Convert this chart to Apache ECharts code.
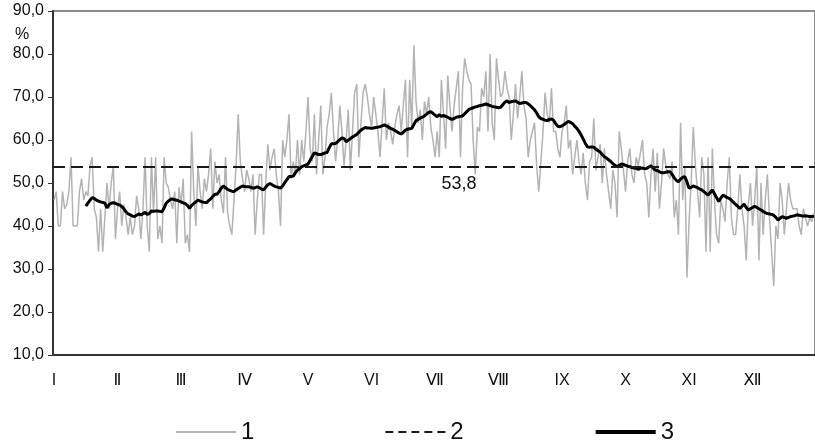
<!DOCTYPE html>
<html>
<head>
<meta charset="utf-8">
<script src="https://cdn.jsdelivr.net/npm/echarts@6/dist/echarts.min.js"></script>
<style>
  html, body { margin: 0; padding: 0; background: #fff; }
  #chart { width: 815px; height: 446px; }
</style>
</head>
<body>
<div id="chart"></div>
<script>
// month labels, one every 30 days
const MONTHS = ['I', 'Ⅱ', 'Ⅲ', 'Ⅳ', 'V', 'VI', 'Ⅶ', 'Ⅷ', 'IX', 'X', 'XI', 'Ⅻ'];
const Y_MIN = 10, Y_MAX = 90, Y_STEP = 10;
const MEAN = 53.8;

// 1 - daily values, %
const DAILY = [
  46,48,40,40,48,44,45,48,56,40,
  40,40,48,51,46,48,47,54,56,44,
  42,34,44,34,42,50,44,50,54,37,
  44,48,40,45,42,38,42,38,40,47,
  44,37,44,56,40,34,56,43,56,37,
  40,36,56,50,49,46,44,48,36,49,
  45,51,36,38,34,62,48,40,54,48,
  44,51,48,52,58,44,55,50,52,46,
  43,56,43,40,38,46,54,66,55,51,
  48,53,51,48,52,38,46,52,52,38,
  50,59,53,56,58,52,48,40,60,56,
  60,66,51,55,52,60,52,60,55,
  62,70,58,55,66,52,60,68,52,56,
  63,66,71,62,55,60,68,62,54,60,
  67,53,62,71,73,56,64,71,73,70,
  66,63,70,66,62,56,64,72,60,64,
  62,59,63,66,68,62,68,74,56,74,
  63,82,69,64,67,60,69,66,70,63,
  60,56,62,56,74,66,58,75,68,62,
  68,72,76,56,72,79,76,74,73,60,
  52,63,62,72,70,76,62,80,64,60,
  79,74,70,71,76,72,70,60,66,73,
  65,70,76,68,65,56,60,62,64,54,
  48,55,62,71,66,64,72,62,62,
  58,56,62,64,68,58,60,52,56,60,
  55,52,57,50,46,55,56,65,53,56,
  59,50,58,52,48,44,53,50,42,62,
  58,53,48,55,58,52,50,56,54,57,
  60,52,50,42,52,58,48,57,44,50,
  58,54,52,51,55,42,46,38,64,46,
  54,28,41,50,63,54,48,42,56,52,
  34,56,34,58,46,38,36,46,44,41,
  50,56,42,38,38,44,52,44,40,32,
  45,50,40,46,54,32,50,38,46,52,
  42,34,26,40,37,50,46,38,44,50,
  46,44,44,44,40,38,44,42,40,42,
  41,43
];

// 3 - smoothed values, %
const SMOOTH = [
  null,null,null,null,null,null,null,null,null,null,
  null,null,null,null,null,
  44.6,45.3,46.0,46.6,46.4,46.0,45.8,45.6,45.5,45.3,
  44.2,45.0,45.3,45.4,45.3,45.0,44.9,44.5,44.0,43.3,
  42.8,42.6,42.3,42.2,42.5,42.8,42.6,42.8,43.2,42.7,
  42.9,43.5,43.4,43.5,43.5,43.4,43.3,44.2,45.3,45.8,
  46.2,46.3,46.1,46.0,45.8,45.6,45.4,45.2,44.8,44.1,
  44.8,45.2,45.6,46.0,45.8,45.6,45.5,45.4,45.9,46.3,
  46.9,47.4,47.4,48.0,48.8,49.3,48.9,48.5,48.3,48.1,
  48.0,48.4,48.7,49.0,49.3,49.2,49.1,49.1,49.0,48.8,
  48.9,49.1,48.9,48.6,48.4,49.0,49.6,49.9,49.6,49.3,
  49.1,49.0,48.8,49.3,50.1,50.8,51.5,51.5,51.6,52.4,
  53.0,53.3,53.8,54.0,54.2,54.4,55.3,56.2,57.0,
  56.8,56.6,56.6,56.8,57.0,57.1,58.2,59.1,59.1,59.2,
  59.6,60.1,60.5,60.3,59.6,60.0,60.3,60.7,61.0,61.3,
  61.8,62.3,62.6,62.9,62.8,62.8,62.7,62.8,62.9,63.0,
  63.1,63.3,63.5,63.3,63.0,62.7,62.5,62.2,61.9,61.6,
  61.4,61.8,62.3,62.5,62.6,62.7,63.6,64.5,64.8,65.1,
  65.3,65.6,66.0,66.4,66.6,66.2,65.8,65.4,65.9,65.5,
  65.7,65.5,65.3,65.0,64.8,65.0,65.3,65.4,65.5,65.6,
  66.1,66.6,67.1,67.3,67.5,67.7,67.8,68.0,68.1,68.2,
  68.4,68.2,68.0,67.8,67.7,67.6,67.5,67.6,68.2,68.8,
  69.1,68.7,68.9,69.0,69.1,68.8,68.5,68.6,68.7,68.7,
  68.4,68.0,67.5,67.0,66.3,65.4,65.0,64.8,64.6,64.5,
  64.8,64.9,64.6,63.8,63.2,63.1,63.3,63.6,64.0,
  64.3,64.1,63.8,63.2,62.7,62.0,61.2,60.2,59.2,58.4,
  58.3,58.4,58.3,57.9,57.5,57.2,56.6,56.1,55.8,55.4,
  55.0,54.5,54.1,53.8,54.1,54.4,54.3,54.1,53.9,53.8,
  53.6,53.5,53.4,53.2,53.4,53.5,53.3,53.4,53.7,54.0,
  53.5,53.0,52.9,52.6,52.4,52.4,52.5,52.6,52.6,52.0,
  51.2,50.6,50.3,50.9,51.3,51.5,50.3,48.8,49.0,49.3,
  49.1,48.9,48.6,48.4,48.0,47.6,47.2,47.8,48.4,47.5,
  46.6,45.7,46.5,47.2,46.9,46.6,46.4,46.0,45.5,45.0,
  44.6,44.1,44.6,45.1,44.3,43.7,44.0,44.3,44.6,44.3,
  44.0,43.7,43.4,43.1,42.9,42.8,42.7,42.5,42.0,41.4,
  41.8,42.2,42.0,41.8,42.0,42.2,42.3,42.4,42.6,42.5,
  42.4,42.3,42.4,42.3,42.2,42.2,42.3
];

const DAYS = DAILY.map((v, i) => i + 1);
const FONT = 'Arial, "Liberation Sans", "DejaVu Sans", sans-serif';
const fmt = v => v.toFixed(1).replace('.', ',');

const chart = echarts.init(document.getElementById('chart'));
chart.setOption({
  animation: false,
  textStyle: { fontFamily: FONT },
  grid: {
    left: 53, right: -19, top: 11, bottom: 91,
    show: true, borderColor: '#8c8c8c', borderWidth: 2
  },
  legend: {
    left: 175, top: 420, padding: 0,
    itemWidth: 60, itemHeight: 14, itemGap: 130,
    itemStyle: { opacity: 0 },
    textStyle: { fontSize: 24, color: '#111', fontFamily: FONT },
    data: [
      { name: '1', lineStyle: { width: 2 } },
      { name: '2', lineStyle: { width: 2, type: [8, 5] } },
      { name: '3', lineStyle: { width: 4 } }
    ]
  },
  xAxis: {
    type: 'category',
    data: DAYS,
    boundaryGap: true,
    axisLine: { lineStyle: { color: '#333', width: 2 } },
    axisTick: { interval: 29, length: 5, lineStyle: { color: '#333' } },
    axisLabel: {
      interval: 29, margin: 18, fontSize: 16, color: '#111', fontFamily: FONT,
      formatter: (v, i) => MONTHS[Math.round(i / 30)] || ''
    },
    splitLine: { show: false }
  },
  yAxis: {
    type: 'value',
    min: Y_MIN, max: Y_MAX, interval: Y_STEP,
    axisLine: { show: true, lineStyle: { color: '#333', width: 2 } },
    axisTick: { show: true, length: 5, lineStyle: { color: '#333' } },
    axisLabel: { margin: 9, fontSize: 16, color: '#111', fontFamily: FONT, formatter: fmt },
    splitLine: { show: false }
  },
  graphic: [
    { type: 'text', x: 22, y: 35, style: { text: '%', font: '16px ' + FONT, fill: '#111', align: 'center', verticalAlign: 'middle' } },
    { type: 'text', x: 459, y: 184, style: { text: fmt(MEAN), font: '18px ' + FONT, fill: '#111', align: 'center', verticalAlign: 'middle' } }
  ],
  series: [
    {
      name: '1', type: 'line', data: DAILY, symbol: 'none',
      lineStyle: { color: '#b3b3b3', width: 1.5 }, itemStyle: { color: '#b3b3b3' }, z: 1
    },
    {
      name: '2', type: 'line', data: [], symbol: 'none',
      lineStyle: { color: '#1a1a1a', width: 2, type: [12, 6] }, itemStyle: { color: '#1a1a1a' }, z: 2,
      markLine: {
        silent: true, symbol: 'none', label: { show: false },
        lineStyle: { color: '#1a1a1a', width: 2, type: [12, 6] },
        data: [{ yAxis: MEAN }]
      }
    },
    {
      name: '3', type: 'line', data: SMOOTH, symbol: 'none',
      lineStyle: { color: '#000', width: 3 }, itemStyle: { color: '#000' }, z: 3
    }
  ]
});
</script>
</body>
</html>
